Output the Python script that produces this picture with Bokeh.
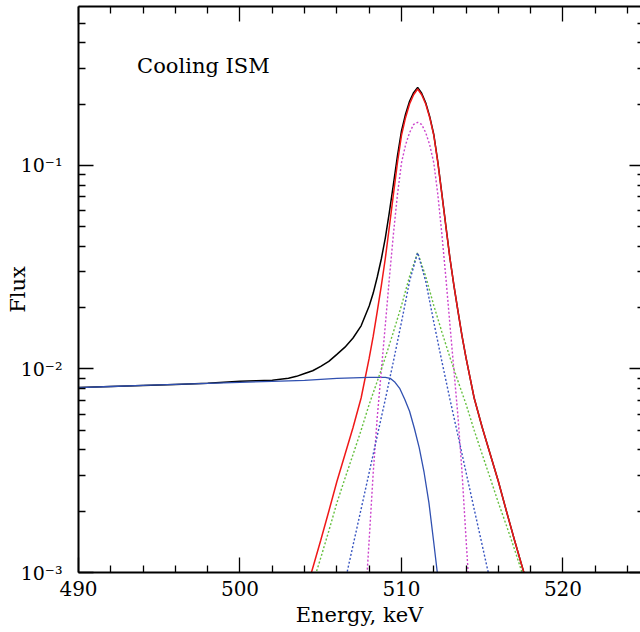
from bokeh.plotting import figure
from bokeh.models import FixedTicker, LogAxis, LinearAxis, Label, CustomJSTickFormatter
from bokeh.embed import file_html
from bokeh.resources import INLINE

# ---------------- data ----------------
# ortho-positronium-like continuum (blue solid)
cont_E = [490, 492, 494, 496, 498, 500, 502, 504, 505, 506, 507, 508, 508.5, 509, 509.3,
          509.6, 509.9, 510.2, 510.5, 510.8, 511.1, 511.4, 511.7, 512.0, 512.25, 512.5]
cont_F = [0.0081, 0.0082, 0.0083, 0.0084, 0.0085, 0.0086, 0.0087, 0.0088, 0.0089, 0.0090,
          0.00905, 0.0091, 0.0091, 0.0091, 0.0090, 0.0086, 0.0080, 0.0071, 0.0062, 0.0051,
          0.0041, 0.0031, 0.0022, 0.0014, 0.00095, 0.0006]

# total spectrum (black)
total_E = [490, 492, 494, 496, 498, 500, 501, 502, 503, 503.5, 504, 504.5, 505, 505.5, 506,
           506.5, 507, 507.5, 508, 508.25, 508.5, 508.75, 509, 509.25, 509.5, 509.75, 510,
           510.25, 510.5, 510.75, 511, 511.25, 511.5, 511.75, 512, 512.25, 512.5, 512.75,
           513, 513.25, 513.5, 513.75, 514, 514.5, 515, 515.5, 516, 516.5, 517, 517.5, 518]
total_F = [0.0081, 0.0082, 0.0083, 0.0084, 0.0085, 0.0087, 0.00875, 0.0088, 0.0090, 0.0092,
           0.0095, 0.0098, 0.0103, 0.0109, 0.0118, 0.0128, 0.0142, 0.0163, 0.0204, 0.0236,
           0.0283, 0.0347, 0.0441, 0.059, 0.0807, 0.1116, 0.148, 0.1784, 0.2067, 0.2278,
           0.2420, 0.2263, 0.2033, 0.1737, 0.142, 0.1043, 0.0727, 0.0503, 0.035, 0.0256,
           0.0192, 0.0145, 0.0113, 0.0072, 0.00516, 0.0038, 0.0028, 0.0020, 0.00144,
           0.00105, 0.00077]

# annihilation line, sum of line components (red)
line_E = [504.0, 504.5, 505.0, 505.5, 506.0, 506.5, 507.0, 507.5, 508.0, 508.25, 508.5,
          508.75, 509.0, 509.25, 509.5, 509.75, 510.0, 510.25, 510.5, 510.75, 511.0, 511.25,
          511.5, 511.75, 512.0, 512.25, 512.5, 512.75, 513.0, 513.25, 513.5, 513.75, 514.0,
          514.5, 515.0, 515.5, 516.0, 516.5, 517.0, 517.5, 518.0]
line_F = [0.00077, 0.00105, 0.00144, 0.0020, 0.0028, 0.0038, 0.00516, 0.0072, 0.0113, 0.0145,
          0.0192, 0.0256, 0.035, 0.050, 0.0721, 0.1033, 0.1405, 0.1717, 0.2005, 0.2226,
          0.2376, 0.2226, 0.2005, 0.1717, 0.1405, 0.1033, 0.0721, 0.050, 0.035, 0.0256,
          0.0192, 0.0145, 0.0113, 0.0072, 0.00516, 0.0038, 0.0028, 0.0020, 0.00144,
          0.00105, 0.00077]

# narrow component (magenta dotted)
narrow_E = [507.6, 507.75, 508.0, 508.25, 508.5, 508.75, 509.0, 509.25, 509.5, 509.75, 510.0,
            510.25, 510.5, 510.75, 511.0, 511.25, 511.5, 511.75, 512.0, 512.25, 512.5,
            512.75, 513.0, 513.25, 513.5, 513.75, 514.0, 514.25, 514.4]
narrow_F = [0.0004, 0.0007, 0.00145, 0.0031, 0.0058, 0.0098, 0.0165, 0.028, 0.046, 0.072,
            0.103, 0.126, 0.145, 0.159, 0.163, 0.159, 0.145, 0.126, 0.103, 0.072, 0.046,
            0.028, 0.0165, 0.0098, 0.0058, 0.0031, 0.00145, 0.0007, 0.0004]

# broad component (green dotted)
broad_E = [504.0, 504.5, 505.0, 505.5, 506.0, 506.5, 507.0, 507.5, 508.0, 508.5, 509.0,
           509.5, 510.0, 510.5, 511.0, 511.5, 512.0, 512.5, 513.0, 513.5, 514.0, 514.5,
           515.0, 515.5, 516.0, 516.5, 517.0, 517.5, 518.0]
broad_F = [0.00066, 0.00088, 0.00118, 0.0016, 0.0022, 0.0029, 0.0038, 0.0050, 0.0067, 0.0087,
           0.0114, 0.0152, 0.0205, 0.0285, 0.0373, 0.0285, 0.0205, 0.0152, 0.0114, 0.0087,
           0.0067, 0.0050, 0.0038, 0.0029, 0.0022, 0.0017, 0.0013, 0.00098, 0.00074]

# medium component (blue dotted)
mid_E = [505.5, 506.0, 506.5, 507.0, 507.5, 508.0, 508.5, 509.0, 509.5, 510.0, 510.5, 511.0,
         511.5, 512.0, 512.5, 513.0, 513.5, 514.0, 514.5, 515.0, 515.5, 516.0, 516.5]
mid_F = [0.0004, 0.0006, 0.0009, 0.00136, 0.00205, 0.0031, 0.0047, 0.0071, 0.0109, 0.0170,
         0.027, 0.0373, 0.027, 0.0170, 0.0109, 0.0071, 0.0047, 0.0031, 0.00205, 0.00136,
         0.0009, 0.0006, 0.0004]

x_major = [490, 500, 510, 520]
x_minor = [492, 494, 496, 498, 502, 504, 506, 508, 512, 514, 516, 518, 522, 524]
y_major = [0.001, 0.01, 0.1]
y_minor = [0.002, 0.003, 0.004, 0.005, 0.006, 0.007, 0.008, 0.009,
           0.02, 0.03, 0.04, 0.05, 0.06, 0.07, 0.08, 0.09,
           0.2, 0.3, 0.4, 0.5]
y_labels = {0.001: "10\u207b\u00b3", 0.01: "10\u207b\u00b2", 0.1: "10\u207b\u00b9"}

FONT = "DejaVu Serif"

p = figure(width=640, height=632, x_range=(490, 524.8), y_range=(0.001, 0.604),
           y_axis_type="log", output_backend="svg", toolbar_location=None,
           min_border_left=78, min_border_right=0, min_border_top=6, min_border_bottom=60)
p.outline_line_color = None
p.grid.visible = False
p.background_fill_color = "white"
p.border_fill_color = "white"


def style(ax):
    ax.axis_line_width = 2
    ax.axis_line_color = "black"
    ax.major_tick_in = 15
    ax.major_tick_out = 0
    ax.minor_tick_in = 7
    ax.minor_tick_out = 0
    ax.major_tick_line_width = 1.3
    ax.minor_tick_line_width = 1.3
    ax.major_tick_line_color = "black"
    ax.minor_tick_line_color = "black"
    ax.major_label_text_font = FONT
    ax.major_label_text_font_size = "20px"
    ax.major_label_text_color = "black"
    ax.axis_label_text_font = FONT
    ax.axis_label_text_font_size = "21px"
    ax.axis_label_text_font_style = "normal"
    ax.axis_label_text_color = "black"


xa = p.xaxis[0]
style(xa)
xa.ticker = FixedTicker(ticks=x_major, minor_ticks=x_minor)
xa.axis_label = "Energy, keV"
xa.major_label_standoff = 8
xa.axis_label_standoff = 4

ya = p.yaxis[0]
style(ya)
ya.ticker = FixedTicker(ticks=y_major, minor_ticks=y_minor)
ya.major_label_overrides = y_labels
ya.major_label_text_font_size = "19px"
ya.axis_label = "Flux"
ya.major_label_standoff = 16
ya.axis_label_standoff = -12

top = LinearAxis(ticker=FixedTicker(ticks=x_major, minor_ticks=x_minor),
                 formatter=CustomJSTickFormatter(code="return ''"))
style(top)
top.major_label_standoff = 0
p.add_layout(top, "above")

right = LogAxis(ticker=FixedTicker(ticks=y_major, minor_ticks=y_minor),
                formatter=CustomJSTickFormatter(code="return ''"))
style(right)
right.axis_line_color = None
right.major_tick_in = 11
right.minor_tick_in = 3
right.major_label_standoff = 0
p.add_layout(right, "right")

p.line(total_E, total_F, line_color="black", line_width=1.5)
p.line(line_E, line_F, line_color="#f01818", line_width=1.5)
p.line(cont_E, cont_F, line_color="#3050b0", line_width=1.3)
p.line(narrow_E, narrow_F, line_color="#cc44cc", line_width=1.4, line_dash="2 2")
p.line(broad_E, broad_F, line_color="#66c040", line_width=1.4, line_dash="2 2")
p.line(mid_E, mid_F, line_color="#3855c0", line_width=1.4, line_dash="2 2")

p.add_layout(Label(x=493.63, y=0.3065, text="Cooling ISM", text_font=FONT,
                   text_font_size="21px", text_baseline="alphabetic", text_color="black"))

open("out.html", "w").write(file_html(p, INLINE))
